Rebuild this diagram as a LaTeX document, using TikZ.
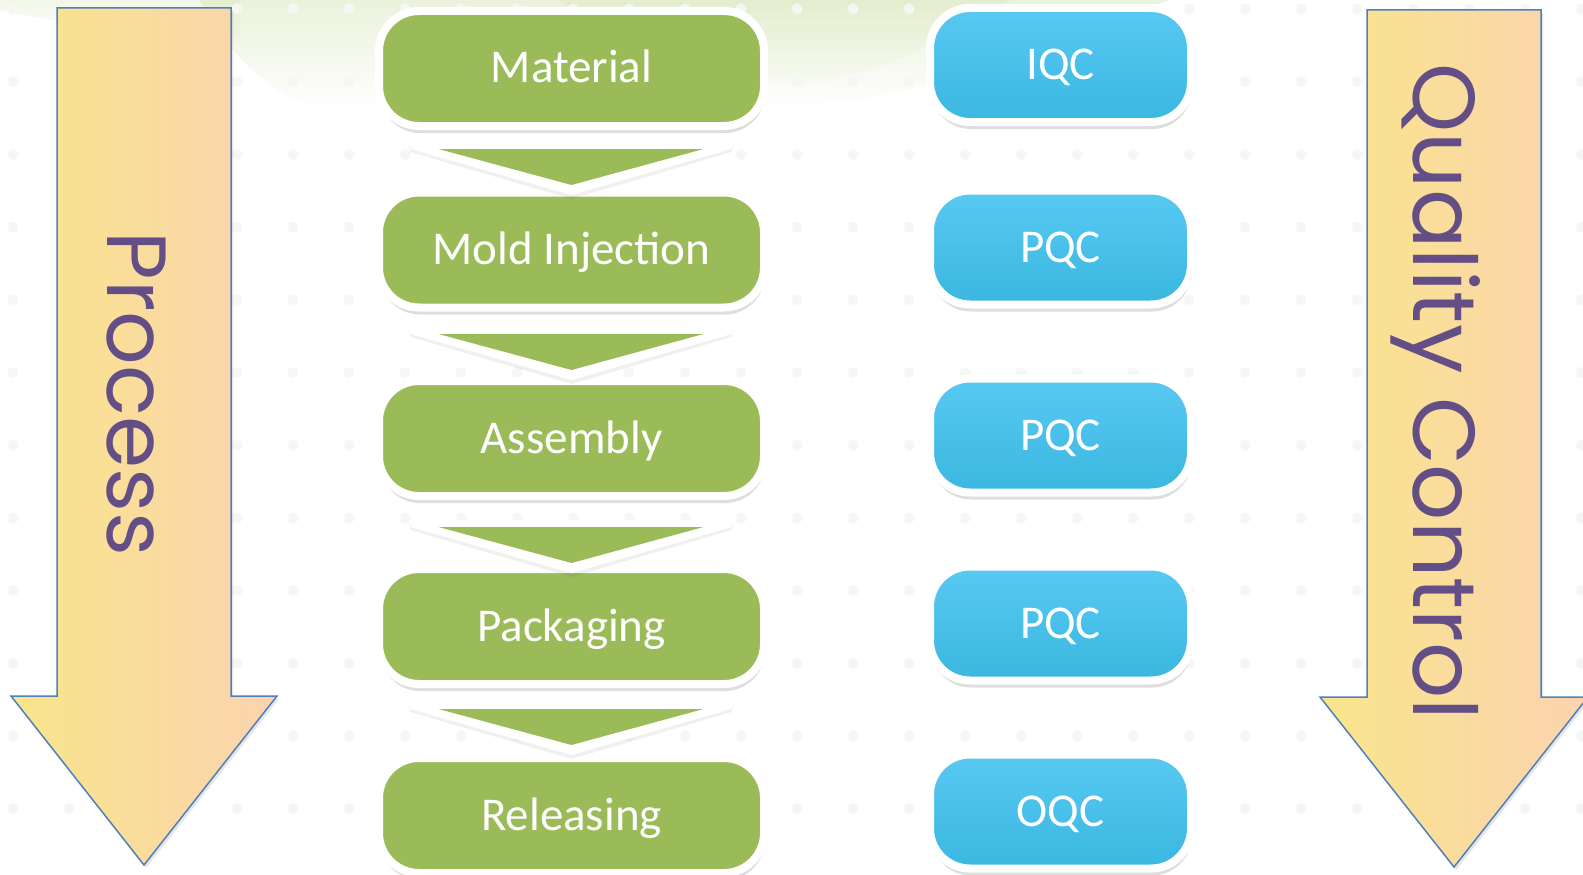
\documentclass[tikz,border=0pt]{standalone}
\usepackage{fontspec}
\setmainfont{Carlito}
\newfontfamily\arrowfont{Poppins}
\usetikzlibrary{shadows,calc,fadings}
\definecolor{boxgreen}{HTML}{9BBB59}
\definecolor{blueTop}{HTML}{58C9F3}
\definecolor{blueBot}{HTML}{3AB7E0}
\definecolor{arrYellow}{HTML}{F9E58B}
\definecolor{arrPeach}{HTML}{FBD3AF}
\definecolor{arrBorder}{HTML}{4E80BD}
\definecolor{labelPurple}{HTML}{634F86}
\definecolor{dotGray}{HTML}{F5F7F5}
\definecolor{swoosh}{HTML}{D8E6B8}
\tikzset{
  procbox/.style={draw=white, line width=8pt, fill=boxgreen, rounded corners=40pt,
    minimum width=385pt, minimum height=115pt, text=white,
    font=\fontsize{47}{50}\selectfont, text height=29pt, text depth=0pt, inner sep=0pt,
    drop shadow={shadow xshift=1pt, shadow yshift=-7pt, opacity=0.13, fill=black}},
  qcbox/.style={draw=white, line width=8pt, top color=blueTop, bottom color=blueBot, rounded corners=40pt,
    minimum width=261pt, minimum height=114pt, text=white,
    font=\fontsize{47}{50}\selectfont, text height=29pt, text depth=0pt, inner sep=0pt,
    drop shadow={shadow xshift=1pt, shadow yshift=-7pt, opacity=0.13, fill=black}},
  bigarrow/.style={draw=arrBorder, line width=1.5pt, left color=arrYellow, right color=arrPeach, line join=miter},
  arrowlabel/.style={text=labelPurple, rotate=-90, anchor=base, inner sep=0pt},
  chev/.pic={
    \fill[black, opacity=0.06] (-163,3) -- (162,3) -- (160,10) -- (0,57) -- (-161,10) -- cycle;
    \fill[white] (-163,0) -- (162,0) -- (160,7) -- (0,53) -- (-161,7) -- cycle;
    \fill[boxgreen] (-133,7) -- (132,7) -- (0,43) -- cycle;
  }
}
\begin{document}
\begin{tikzpicture}[x=1pt,y=-1pt]
\useasboundingbox (0,0) rectangle (1583,875);
\clip (0,0) rectangle (1583,875);
\fill[white] (0,0) rectangle (1583,875);
% background swoosh
\fill[swoosh, opacity=0.3, path fading=south] (0,0) -- (240,0) -- (240,48) .. controls (160,42) and (60,22) .. (0,10) -- cycle;
\fill[swoosh, opacity=0.5, path fading=south] (200,0) -- (1170,0) .. controls (1030,50) and (930,108) .. (720,110)
  -- (320,110) .. controls (260,90) and (225,45) .. (200,0) -- cycle;
\fill[swoosh, opacity=0.35, path fading=south] (560,0) -- (1010,0) .. controls (930,45) and (870,85) .. (760,88)
  .. controls (650,85) and (590,40) .. (560,0) -- cycle;
% dot grid
\foreach \i in {0,...,28}{
  \foreach \j in {0,...,12}{
    \fill[dotGray] (13+56*\i, 9+72.7*\j) circle (5.5);
  }
}
% big arrows
\path[bigarrow, drop shadow={shadow xshift=2pt, shadow yshift=-3pt, opacity=0.1, fill=black}]
  (57,8) -- (231,8) -- (231,696) -- (277,696) -- (144,865) -- (11,696) -- (57,696) -- cycle;
\path[bigarrow, drop shadow={shadow xshift=2pt, shadow yshift=-3pt, opacity=0.1, fill=black}]
  (1367,10) -- (1541,10) -- (1541,697) -- (1588,697) -- (1454,867) -- (1320,697) -- (1367,697) -- cycle;
\node[arrowlabel, font=\arrowfont\fontsize{84}{90}\selectfont] (proc) at (107,394) {Process};
\node[arrowlabel, font=\arrowfont\fontsize{88}{94}\selectfont] (qual) at (1413,392) {Quality Control};
% process boxes
\node[procbox] (m1) at (571.5,68.5) {Material};
\node[procbox] (m2) at (571.5,250) {Mold Injection};
\node[procbox] (m3) at (571.5,438.5) {Assembly};
\node[procbox] (m4) at (571.5,626.5) {Packaging};
\node[procbox] (m5) at (571.5,815.5) {Releasing};
% chevrons between process steps
\pic at ($(m1.south)+(0,12)$) {chev};
\pic at ($(m2.south)+(0,15.5)$) {chev};
\pic at ($(m3.south)+(0,20)$) {chev};
\pic at ($(m4.south)+(0,14)$) {chev};
% quality boxes
\node[qcbox] (q1) at (1060.5,65) {IQC};
\node[qcbox] (q2) at (1060.5,247.5) {PQC};
\node[qcbox] (q3) at (1060.5,435.5) {PQC};
\node[qcbox] (q4) at (1060.5,623.5) {PQC};
\node[qcbox] (q5) at (1060.5,811.5) {OQC};
\end{tikzpicture}
\end{document}
